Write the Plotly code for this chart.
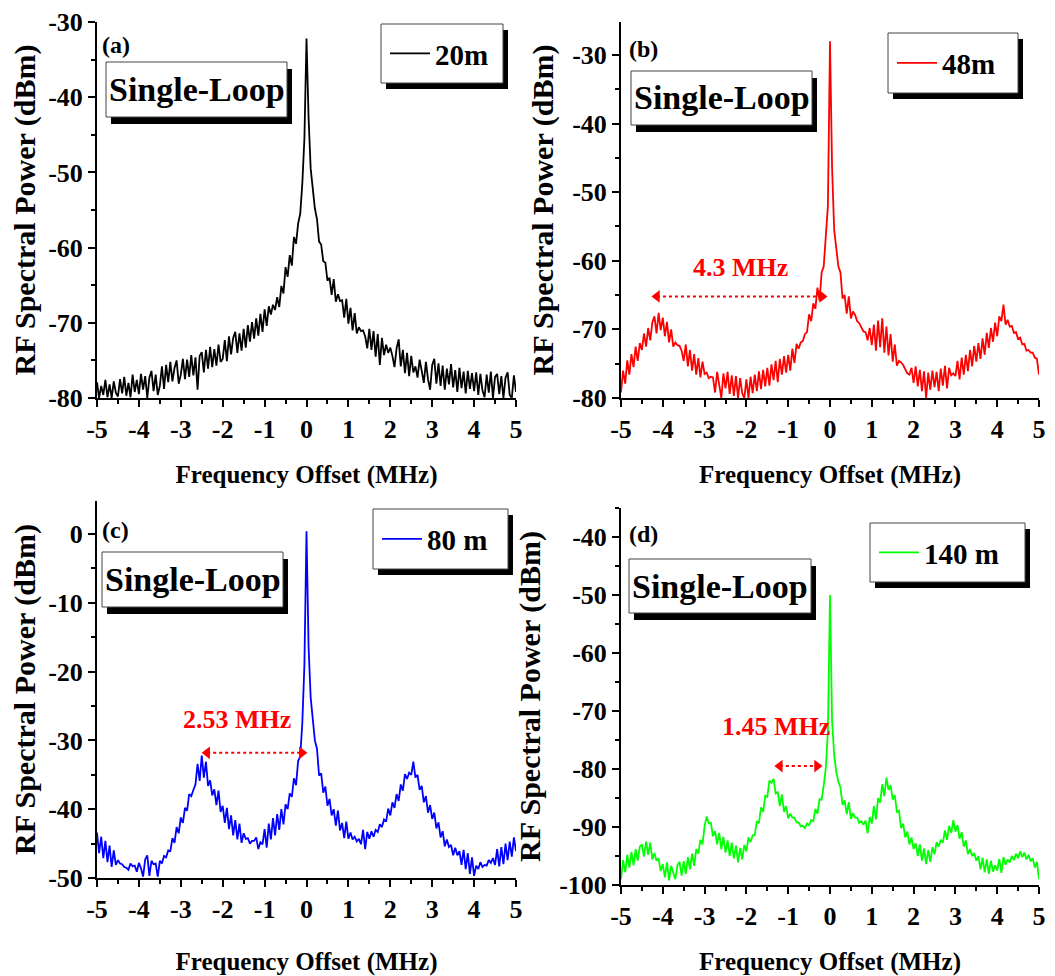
import plotly.graph_objects as go

# ---------------- data ----------------
freq = [round(-5 + 0.05 * i, 2) for i in range(201)]  # frequency offset grid, MHz

power_20m = [
    -77.9, -80.0, -78.4, -79.6, -77.6, -79.9, -78.2, -80.0, -77.8, -79.3,
    -79.8, -77.5, -79.4, -77.2, -79.7, -78.0, -79.9, -76.9, -79.2, -77.6,
    -79.5, -76.8, -78.9, -77.1, -80.0, -77.3, -76.4, -79.1, -76.9, -79.6,
    -78.4, -75.8, -78.8, -75.6, -77.9, -75.2, -77.8, -76.0, -75.0, -78.1,
    -76.9, -74.8, -77.5, -74.9, -77.2, -74.3, -77.0, -74.6, -78.9, -74.4,
    -73.9, -76.6, -73.6, -76.1, -73.2, -75.9, -73.5, -75.7, -72.9, -75.2,
    -74.8, -72.3, -75.1, -71.8, -74.2, -72.0, -71.2, -74.0, -71.4, -73.7,
    -70.8, -73.3, -70.3, -72.5, -69.9, -72.1, -69.4, -71.7, -68.8, -71.2,
    -68.2, -70.4, -67.8, -68.9, -67.6, -68.3, -66.6, -67.9, -65.1, -66.1,
    -62.6, -63.9, -61.0, -62.4, -58.6, -59.5, -56.8, -55.5, -51.5, -45.5,
    -32.2,
    -42.8, -49.5, -52.5, -54.8, -56.2, -59.2, -59.6, -61.8, -62.0, -64.4,
    -64.0, -66.3, -64.2, -67.2, -66.2, -67.1, -67.0, -69.3, -66.8, -70.1,
    -68.0, -71.0, -68.7, -71.4, -70.6, -71.1, -71.0, -71.8, -73.4, -70.8,
    -73.6, -71.1, -74.5, -71.5, -75.6, -72.0, -74.3, -72.9, -74.0, -73.3,
    -74.4, -75.9, -73.4, -72.2, -75.8, -73.6, -76.7, -74.0, -77.1, -74.4,
    -76.6, -75.8, -77.3, -74.9, -76.4, -78.0, -75.2, -77.5, -78.9, -75.6,
    -74.8, -78.1, -75.4, -78.4, -75.7, -78.9, -76.1, -78.2, -75.5, -78.6,
    -76.3, -79.2, -76.0, -78.7, -76.5, -79.4, -76.4, -78.8, -76.7, -79.1,
    -76.6, -79.6, -76.8, -79.0, -79.9, -76.9, -79.3, -76.5, -80.0, -77.2,
    -76.8, -79.5, -77.1, -80.0, -77.3, -76.6, -79.6, -80.0, -77.0, -79.2,
]

power_48m = [
    -79.2, -76.0, -77.9, -74.5, -76.6, -73.6, -75.5, -72.5, -74.6, -72.0,
    -73.0, -70.6, -72.5, -69.8, -71.6, -69.0, -68.1, -70.6, -67.6, -70.1,
    -68.3, -71.0, -68.9, -71.9, -70.0, -72.5, -71.9, -72.3, -72.4, -73.1,
    -74.6, -72.2, -75.4, -73.0, -76.0, -73.6, -76.6, -74.2, -77.0, -74.7,
    -76.5, -76.3, -77.1, -76.9, -77.0, -79.2, -76.2, -78.1, -80.0, -76.4,
    -78.6, -76.2, -79.4, -76.7, -79.7, -76.8, -80.0, -77.1, -79.3, -80.0,
    -77.3, -80.0, -76.9, -79.3, -76.6, -79.0, -76.1, -78.7, -75.9, -78.3,
    -75.6, -78.2, -75.1, -77.4, -74.6, -77.7, -74.3, -76.6, -73.9, -76.3,
    -73.7, -76.0, -72.8, -74.9, -72.1, -72.8, -71.9, -71.7, -70.7, -70.4,
    -67.8, -68.8, -66.2, -67.0, -63.9, -65.8, -61.7, -60.8, -57.0, -52.0,
    -28.0,
    -46.5, -55.5, -58.5, -60.8, -61.7, -65.5, -65.0, -67.7, -65.2, -68.4,
    -67.4, -67.9, -68.8, -69.1, -69.7, -70.3, -70.4, -71.6, -69.8, -72.3,
    -69.3, -73.1, -68.7, -72.6, -68.4, -73.4, -69.6, -73.8, -70.7, -74.7,
    -72.2, -75.3, -74.6, -74.8, -75.2, -75.9, -76.4, -76.6, -75.6, -77.8,
    -75.4, -78.3, -75.9, -79.0, -76.1, -80.0, -76.3, -78.8, -76.0, -78.4,
    -76.2, -79.0, -75.7, -78.2, -75.3, -78.6, -75.6, -76.7, -76.4, -76.8,
    -74.6, -77.3, -74.1, -76.6, -73.7, -76.1, -73.0, -75.4, -72.4, -74.7,
    -72.0, -74.3, -71.3, -73.7, -70.5, -72.7, -69.8, -71.8, -69.0, -71.0,
    -68.1, -68.8, -66.4, -69.3, -68.6, -69.6, -69.5, -70.5, -70.4, -71.4,
    -71.2, -72.2, -72.1, -73.1, -73.0, -73.4, -73.4, -74.1, -74.3, -76.6,
]

power_80m = [
    -43.4, -46.4, -44.0, -47.1, -44.6, -47.7, -45.3, -48.4, -46.0, -48.1,
    -47.4, -47.9, -48.0, -48.4, -48.5, -48.8, -47.9, -48.3, -48.2, -49.1,
    -47.8, -48.6, -49.8, -47.3, -46.7, -49.7, -47.5, -48.0, -47.9, -49.8,
    -47.5, -47.9, -46.8, -47.0, -46.0, -46.1, -44.2, -44.9, -42.6, -43.5,
    -41.2, -42.0, -39.8, -40.2, -37.8, -38.1, -37.2, -36.4, -33.4, -35.9,
    -32.2, -35.4, -33.1, -36.6, -35.8, -38.0, -37.1, -39.4, -37.3, -40.4,
    -39.5, -42.0, -39.8, -42.9, -40.9, -43.8, -41.6, -44.4, -42.1, -44.9,
    -43.5, -44.3, -44.2, -45.0, -44.6, -44.6, -44.1, -45.8, -44.8, -45.1,
    -42.9, -45.6, -42.1, -44.4, -41.3, -43.8, -40.7, -43.0, -40.0, -42.2,
    -39.3, -40.0, -37.7, -38.2, -35.5, -36.5, -33.0, -32.3, -27.5, -19.0,
    0.4,
    -16.5, -23.8, -27.2, -30.0, -31.2, -35.1, -34.8, -37.6, -36.7, -39.5,
    -38.5, -40.9, -40.0, -42.4, -40.2, -43.1, -42.0, -44.2, -41.8, -44.3,
    -43.4, -44.4, -44.0, -44.7, -44.3, -45.1, -43.0, -45.8, -43.3, -44.3,
    -43.2, -44.0, -43.0, -43.3, -42.2, -42.6, -41.5, -41.8, -39.9, -40.9,
    -39.0, -39.8, -37.8, -38.8, -36.4, -37.3, -34.9, -35.6, -34.7, -35.0,
    -33.1, -35.4, -35.0, -37.2, -36.6, -39.0, -38.1, -40.5, -39.4, -41.4,
    -40.5, -42.8, -41.9, -44.1, -43.2, -45.4, -44.4, -45.5, -45.2, -46.7,
    -45.6, -46.7, -46.1, -48.1, -45.9, -48.7, -46.4, -49.4, -47.0, -49.7,
    -48.2, -48.7, -47.7, -48.4, -48.1, -48.2, -47.4, -47.8, -47.1, -48.1,
    -45.8, -48.3, -45.5, -48.0, -45.0, -47.4, -44.7, -46.9, -44.1, -46.1,
]

power_140m = [
    -99.0, -95.7, -97.8, -94.8, -97.0, -94.3, -96.6, -93.8, -95.8, -93.4,
    -93.0, -95.1, -92.5, -94.8, -92.7, -95.6, -94.5, -95.8, -95.4, -97.6,
    -96.4, -98.7, -96.1, -99.2, -96.7, -97.8, -99.0, -96.6, -96.0, -98.4,
    -95.9, -98.1, -95.2, -97.3, -94.6, -96.7, -93.8, -94.6, -92.2, -93.0,
    -89.8, -88.2, -89.4, -89.3, -91.6, -90.7, -93.0, -91.0, -93.8, -91.7,
    -94.4, -92.3, -95.0, -92.7, -95.4, -93.2, -96.1, -93.6, -95.6, -93.1,
    -94.2, -91.8, -92.6, -91.4, -91.4, -89.0, -89.3, -86.6, -87.4, -84.6,
    -84.8, -82.0, -82.4, -81.7, -84.2, -84.0, -86.4, -84.4, -87.4, -86.4,
    -88.5, -87.7, -88.4, -88.4, -89.2, -89.2, -89.9, -89.8, -90.2, -89.4,
    -89.7, -88.8, -89.0, -86.9, -87.7, -85.2, -85.3, -82.8, -79.8, -73.5,
    -50.0,
    -71.8, -77.6, -80.5, -82.2, -83.2, -86.2, -85.4, -87.8, -85.7, -88.6,
    -87.6, -88.4, -88.4, -89.3, -89.0, -89.6, -88.9, -91.1, -88.3, -89.4,
    -86.4, -88.7, -85.0, -85.8, -82.6, -84.7, -81.5, -83.6, -82.8, -85.3,
    -84.5, -87.4, -87.2, -90.2, -89.4, -91.8, -90.8, -93.0, -91.8, -93.8,
    -92.8, -95.0, -93.0, -95.8, -93.7, -96.4, -94.0, -96.0, -93.5, -94.7,
    -92.6, -93.4, -92.2, -92.7, -90.6, -92.2, -89.8, -91.0, -88.8, -90.8,
    -89.7, -92.0, -90.9, -93.4, -92.3, -94.7, -93.8, -95.0, -94.5, -95.8,
    -95.0, -97.3, -95.3, -97.8, -95.6, -98.1, -95.8, -97.7, -96.6, -97.5,
    -95.5, -97.9, -95.2, -96.5, -95.6, -96.1, -95.0, -95.7, -94.6, -95.4,
    -94.2, -95.2, -94.4, -95.6, -94.8, -95.9, -95.4, -97.0, -96.0, -99.0,
]

series_names = ["20m", "48m", "80 m", "140 m"]
series_colors = ["#000000", "#ff0000", "#0000ff", "#00ff00"]
series_values = [power_20m, power_48m, power_80m, power_140m]
panel_labels = ["(a)", "(b)", "(c)", "(d)"]
y_ranges = [[-80, -30], [-80, -25.2], [-50, 4.8], [-100, -35]]
y_ticks = [
    [-80, -70, -60, -50, -40, -30],
    [-80, -70, -60, -50, -40, -30],
    [-50, -40, -30, -20, -10, 0],
    [-100, -90, -80, -70, -60, -50, -40],
]
x_ticks = [-5, -4, -3, -2, -1, 0, 1, 2, 3, 4, 5]

# spacing annotations: (panel index, left tip, right tip, y, label, label x, label y)
spacing_marks = [
    (1, -4.26, -0.07, -65.2, "4.3 MHz", -2.15, -61.0),
    (2, -2.49, 0.01, -31.8, "2.53 MHz", -1.66, -26.9),
    (3, -1.32, -0.19, -79.5, "1.45 MHz", -1.30, -72.6),
]


def hyphen_labels(vals):
    return [str(v).replace("\u2212", "-") for v in vals]


# ---------------- layout geometry (pixels of the 1055x976 page) ----------------
OFF = 8                      # default page margin in front of the plot div
W, H = 1055 - OFF, 976 - OFF
FONT = "Liberation Serif"


def fx(p):
    return (p - OFF) / W


def fy(p):
    return 1 - (p - OFF) / H


panel_px = [(97, 516, 22, 398), (621, 1039, 22, 398), (97, 516, 501, 878), (621, 1039, 508, 885)]
legend_box_px = [(381, 503, 24, 83), (888, 1018, 33, 93), (373, 508, 509, 569), (870, 1025, 523, 582)]
sl_box_px = [(106, 287, 62, 117), (631, 812, 71, 125), (102, 283, 552, 607), (629, 811, 559, 613)]
label_px = [(100, 45), (627, 49), (100, 530), (627, 534)]
xtitle_standoff = [22, 22, 33, 26]

fig = go.Figure()

tickfont = dict(family=FONT, size=26, color="black", weight="bold")

for k in range(4):
    n = k + 1
    sfx = "" if n == 1 else str(n)
    x0, x1, y0, y1 = panel_px[k]
    fig.add_trace(go.Scatter(
        x=freq, y=series_values[k], mode="lines", name=series_names[k],
        line=dict(color=series_colors[k], width=1.8),
        xaxis="x" + sfx, yaxis="y" + sfx,
        legend="legend" + sfx, showlegend=True,
    ))
    common = dict(
        showline=True, linewidth=2, linecolor="black", showgrid=False, zeroline=False,
        ticks="outside", ticklen=7, tickwidth=2, tickcolor="black",
        tickfont=tickfont, automargin=False,
    )
    fig.layout["xaxis" + sfx] = dict(
        domain=[fx(x0), fx(x1)], anchor="y" + sfx, range=[-5, 5],
        tickvals=x_ticks, ticktext=hyphen_labels(x_ticks),
        minor=dict(ticks="outside", dtick=0.5, tick0=0, ticklen=4, tickwidth=2, tickcolor="black"),
        title=dict(text="Frequency Offset (MHz)", font=dict(family=FONT, size=25, color="black", weight="bold"),
                   standoff=xtitle_standoff[k]),
        **common,
    )
    fig.layout["yaxis" + sfx] = dict(
        domain=[fy(y1), fy(y0)], anchor="x" + sfx, range=y_ranges[k],
        tickvals=y_ticks[k], ticktext=hyphen_labels(y_ticks[k]),
        minor=dict(ticks="outside", dtick=5, tick0=0, ticklen=4, tickwidth=2, tickcolor="black"),
        title=dict(text="RF Spectral Power (dBm)", font=dict(family=FONT, size=30, color="black", weight="bold"),
                   standoff=10),
        **common,
    )
    # mirrored axes with inward ticks (top and right)
    m = n + 4
    fig.layout["xaxis" + str(m)] = dict(
        overlaying="x" + sfx, anchor="y" + sfx, side="top", range=[-5, 5], tickvals=x_ticks,
        showticklabels=False, showline=True, linewidth=2, linecolor="black", showgrid=False, zeroline=False,
        ticks="inside", ticklen=7, tickwidth=2, tickcolor="black",
        minor=dict(ticks="inside", dtick=0.5, tick0=0, ticklen=4, tickwidth=2, tickcolor="black"),
    )
    fig.layout["yaxis" + str(m)] = dict(
        overlaying="y" + sfx, anchor="x" + sfx, side="right", range=y_ranges[k], tickvals=y_ticks[k],
        showticklabels=False, showline=True, linewidth=2, linecolor="black", showgrid=False, zeroline=False,
        ticks="inside", ticklen=7, tickwidth=2, tickcolor="black",
        minor=dict(ticks="inside", dtick=5, tick0=0, ticklen=4, tickwidth=2, tickcolor="black"),
    )

    # legend box with shadow
    lx0, lx1, ly0, ly1 = legend_box_px[k]
    fig.add_shape(type="rect", xref="paper", yref="paper", x0=fx(lx0 + 5), x1=fx(lx1 + 5), y0=fy(ly1 + 6), y1=fy(ly0 + 6),
                  fillcolor="black", line=dict(width=0), layer="above")
    fig.add_shape(type="rect", xref="paper", yref="paper", x0=fx(lx0), x1=fx(lx1), y0=fy(ly1), y1=fy(ly0),
                  fillcolor="white", line=dict(color="#444444", width=1), layer="above")
    fig.layout["legend" + sfx] = dict(
        x=fx(lx0 + 4), y=fy((ly0 + ly1) / 2), xanchor="left", yanchor="middle",
        bgcolor="rgba(0,0,0,0)", borderwidth=0, itemwidth=40,
        font=dict(family=FONT, size=29, color="black", weight="bold"),
    )

    # "Single-Loop" box with shadow
    sx0, sx1, sy0, sy1 = sl_box_px[k]
    fig.add_shape(type="rect", xref="paper", yref="paper", x0=fx(sx0 + 5), x1=fx(sx1 + 5), y0=fy(sy1 + 7), y1=fy(sy0 + 7),
                  fillcolor="black", line=dict(width=0), layer="above")
    fig.add_shape(type="rect", xref="paper", yref="paper", x0=fx(sx0), x1=fx(sx1), y0=fy(sy1), y1=fy(sy0),
                  fillcolor="white", line=dict(color="#444444", width=1), layer="above")
    fig.add_annotation(xref="paper", yref="paper", x=fx((sx0 + sx1) / 2), y=fy((sy0 + sy1) / 2),
                       text="Single-Loop", showarrow=False, xanchor="center", yanchor="middle",
                       font=dict(family=FONT, size=34, color="black", weight="bold"))

    # panel label
    px_, py_ = label_px[k]
    fig.add_annotation(xref="paper", yref="paper", x=fx(px_), y=fy(py_), text=panel_labels[k],
                       showarrow=False, xanchor="left", yanchor="middle",
                       font=dict(family=FONT, size=24, color="black", weight="bold"))

# spacing arrows
for (k, xl, xr, yv, txt, tx, ty) in spacing_marks:
    sfx = "" if k == 0 else str(k + 1)
    fig.add_trace(go.Scatter(
        x=[xl + 0.12, xr - 0.12], y=[yv, yv], mode="lines+markers",
        line=dict(color="#ff0000", width=2, dash="dot"),
        marker=dict(symbol=["triangle-left", "triangle-right"], size=11, color="#ff0000"),
        xaxis="x" + sfx, yaxis="y" + sfx, showlegend=False, hoverinfo="skip",
    ))
    fig.add_annotation(xref="x" + sfx, yref="y" + sfx, x=tx, y=ty, text=txt, showarrow=False,
                       font=dict(family=FONT, size=26, color="#ff0000", weight="bold"))

fig.update_layout(
    width=W, height=H, margin=dict(l=0, r=0, t=0, b=0),
    paper_bgcolor="white", plot_bgcolor="white",
)

fig.write_html("out.html")
